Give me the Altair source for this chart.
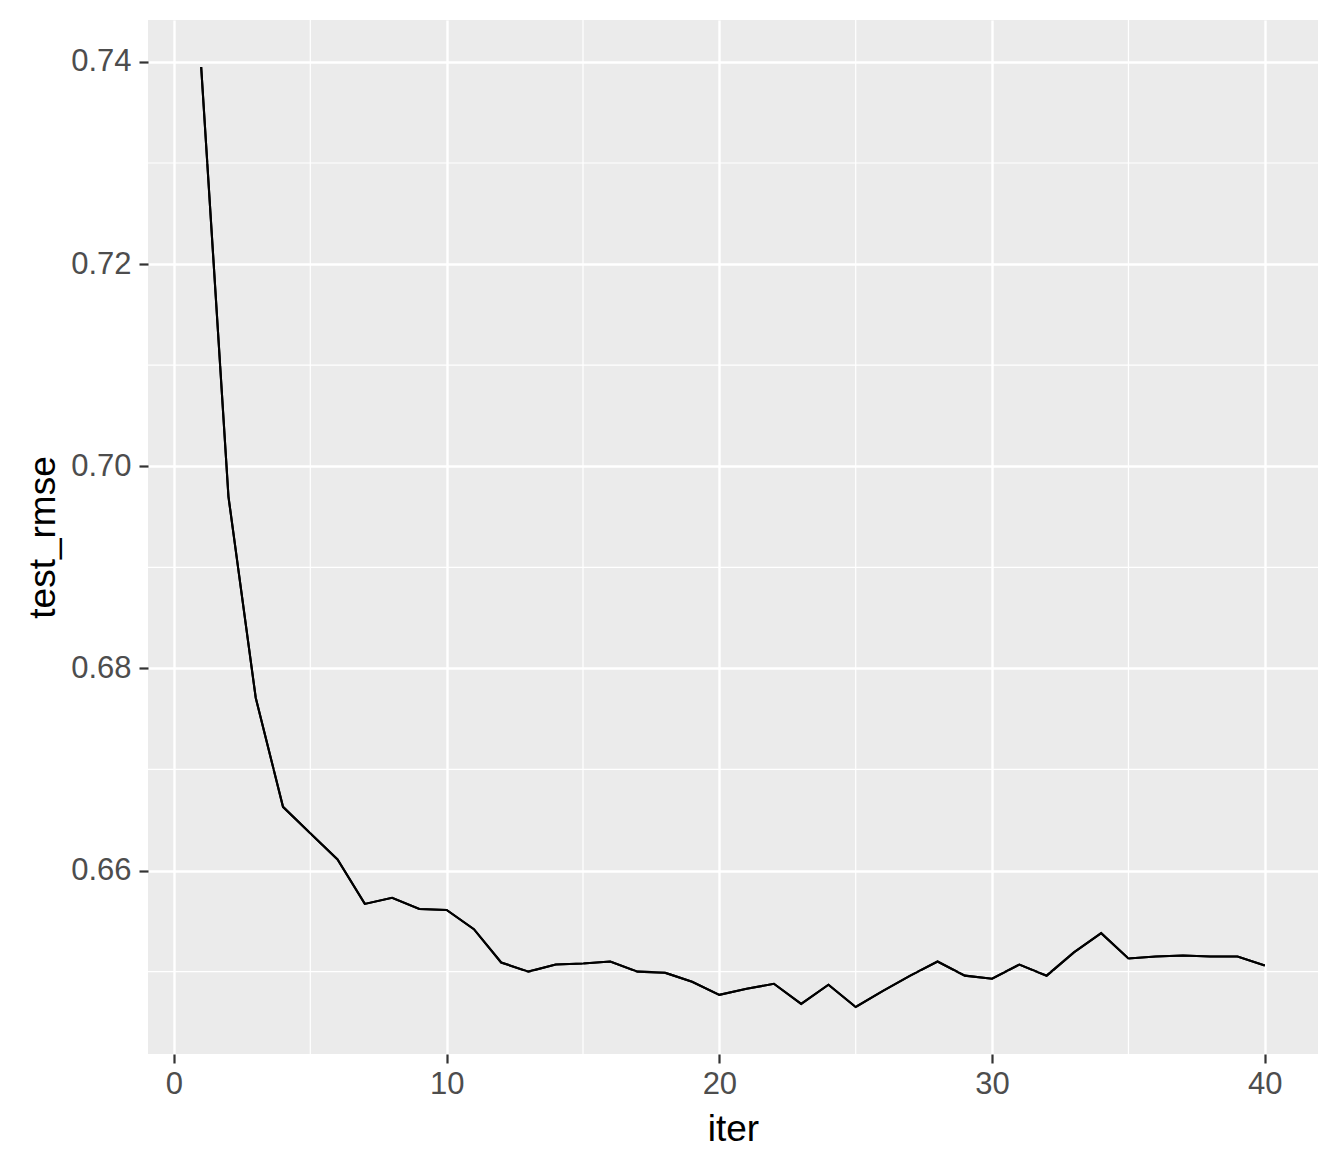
import altair as alt
import pandas as pd

iters = list(range(1, 41))
test_rmse = [0.7395, 0.6970, 0.6771, 0.6663, 0.6637, 0.6611, 0.6567, 0.6573, 0.6562, 0.6561,
             0.6542, 0.6509, 0.6500, 0.6507, 0.6508, 0.6510, 0.6500, 0.6499, 0.6490, 0.6477,
             0.6483, 0.6488, 0.6468, 0.6487, 0.6465, 0.6481, 0.6496, 0.6510, 0.6496, 0.6493,
             0.6507, 0.6496, 0.6519, 0.6538, 0.6513, 0.6515, 0.6516, 0.6515, 0.6515, 0.6506]

x_major = [0, 10, 20, 30, 40]
x_minor = [5, 15, 25, 35]
y_major = [0.66, 0.68, 0.70, 0.72, 0.74]
y_minor = [0.65, 0.67, 0.69, 0.71, 0.73]

x_domain = [-0.95, 41.95]
y_domain = [0.64185, 0.74415]

df = pd.DataFrame({"iter": iters, "test_rmse": test_rmse})
xs = alt.Scale(domain=x_domain, nice=False, zero=False)
ys = alt.Scale(domain=y_domain, nice=False, zero=False)

FONT = "Liberation Sans"

x_axis = alt.Axis(values=x_major, grid=True, gridColor="white", gridWidth=2.4,
                  tickColor="#333333", tickSize=9, tickWidth=2.2, domain=False,
                  labelFont=FONT, labelFontSize=31, labelColor="#4D4D4D", labelPadding=6,
                  titleFont=FONT, titleFontSize=37, titleColor="black",
                  titleFontWeight="normal", titlePadding=12)
y_axis = alt.Axis(values=y_major, grid=True, gridColor="white", gridWidth=2.4,
                  tickColor="#333333", tickSize=9, tickWidth=2.2, domain=False, format=".2f",
                  labelFont=FONT, labelFontSize=31, labelColor="#4D4D4D", labelPadding=8,
                  titleFont=FONT, titleFontSize=37, titleColor="black",
                  titleFontWeight="normal", titlePadding=8)

vminor = alt.Chart(pd.DataFrame({"v": x_minor})).mark_rule(color="white", strokeWidth=1.2).encode(
    x=alt.X("v:Q", scale=xs))
hminor = alt.Chart(pd.DataFrame({"v": y_minor})).mark_rule(color="white", strokeWidth=1.2).encode(
    y=alt.Y("v:Q", scale=ys))

line = alt.Chart(df).mark_line(color="black", strokeWidth=2.1).encode(
    x=alt.X("iter:Q", scale=xs, axis=x_axis, title="iter"),
    y=alt.Y("test_rmse:Q", scale=ys, axis=y_axis, title="test_rmse"),
)

chart = alt.layer(line, vminor, hminor, line).properties(
    width=1170, height=1034,
    autosize=alt.AutoSizeParams(type="none"),
    padding={"left": 148, "top": 20, "right": 21, "bottom": 117},
    background="white",
).configure_view(fill="#EBEBEB", stroke=None)

chart.save("out.html", embed_options={"renderer": "svg", "actions": False})
